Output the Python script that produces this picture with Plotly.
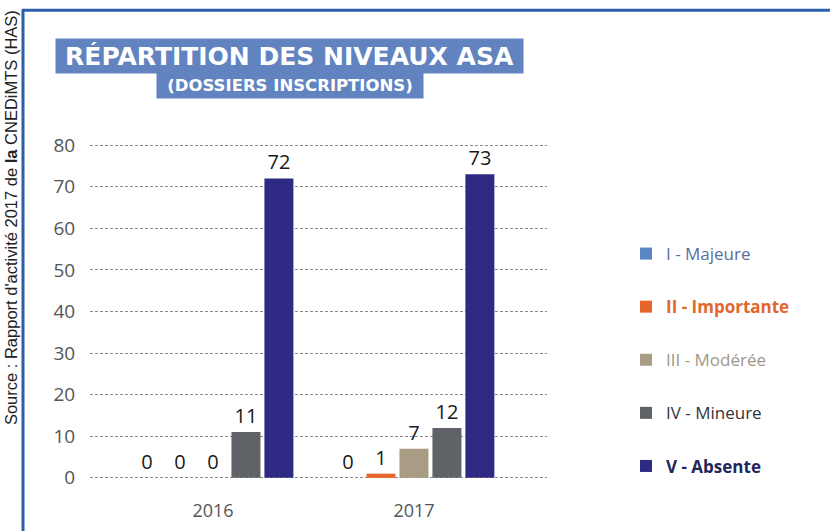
import plotly.graph_objects as go

years = ["2016", "2017"]
levels = ["I - Majeure", "II - Importante", "III - Modérée", "IV - Mineure", "V - Absente"]
v_majeure = [0, 0]
v_importante = [0, 1]
v_moderee = [0, 7]
v_mineure = [11, 12]
v_absente = [72, 73]
series = [v_majeure, v_importante, v_moderee, v_mineure, v_absente]
y_ticks = [0, 10, 20, 30, 40, 50, 60, 70, 80]

bar_colors = ["#5b84c4", "#e8652a", "#a89c84", "#5f6267", "#2e2a84"]
text_colors = ["#5a6f9c", "#e0682c", "#a0968a", "#333338", "#22265a"]
weights = ["normal", "bold", "normal", "normal", "bold"]

W, H = 830, 531
# pixel layout: value 0 at y=478, value 80 at y=145
UNIT = (478 - 145) / 80.0
YMIN, YMAX = -1, 81
L, R = 90, 547
B = 478 + UNIT * (0 - YMIN)
T = 145 - UNIT * (YMAX - 80)

def px(x):
    return (x - L) / (R - L)

def py(y):
    return (B - y) / (B - T)

fig = go.Figure()
for i, (name, vals) in enumerate(zip(levels, series)):
    label = f"<span style='color:{text_colors[i]}'>{'<b>' + name + '</b>' if weights[i]=='bold' else name}</span>"
    fig.add_trace(go.Bar(
        x=years, y=vals, name=label,
        marker=dict(color=bar_colors[i], line=dict(width=0)),
        text=[str(v) for v in vals], textposition="outside",
        textfont=dict(size=20, color="#1a1a1a", family="Open Sans"),
        cliponaxis=False, legendgroup=str(i),
    ))

fig.update_layout(
    width=W, height=H,
    margin=dict(l=L, r=W - R, t=T, b=H - B, autoexpand=False),
    paper_bgcolor="white", plot_bgcolor="white",
    barmode="group", bargap=0.18, bargroupgap=0.12,
    showlegend=True,
    legend=dict(
        xref="container", yref="container",
        x=626 / W, y=1 - 236 / H, xanchor="left", yanchor="top",
        font=dict(size=17, family="Open Sans"),
        tracegroupgap=28, traceorder="grouped",
        bgcolor="rgba(0,0,0,0)",
    ),
    xaxis=dict(
        range=[-0.612, 1.662], showgrid=False, zeroline=False, showline=False,
        ticks="outside", ticklen=12, tickcolor="rgba(0,0,0,0)",
        tickfont=dict(size=18, color="#555", family="Open Sans"),
    ),
    yaxis=dict(
        range=[YMIN, YMAX], tickvals=y_ticks, showgrid=True, gridcolor="#8a8a8a",
        griddash="3px,2px", gridwidth=1, zeroline=False, showline=False,
        ticks="outside", ticklen=10, tickcolor="rgba(0,0,0,0)",
        tickfont=dict(size=19, color="#555", family="Open Sans"),
    ),
)

# frame
fig.add_shape(type="line", xref="paper", yref="paper", x0=px(23), x1=px(23), y0=py(9), y1=py(540),
              line=dict(color="#2d5fa8", width=3))
fig.add_shape(type="line", xref="paper", yref="paper", x0=px(22), x1=px(840), y0=py(10), y1=py(10),
              line=dict(color="#2d5fa8", width=3))

# title boxes
fig.add_annotation(xref="paper", yref="paper", x=px(289.5), y=py(56), showarrow=False,
                   xanchor="center", yanchor="middle",
                   text="<b>RÉPARTITION DES NIVEAUX ASA</b>", bgcolor="#6184c0",
                   width=467, height=34, borderpad=0,
                   font=dict(size=25, color="white", family="DejaVu Sans"))
fig.add_annotation(xref="paper", yref="paper", x=px(290), y=py(85.5), showarrow=False,
                   xanchor="center", yanchor="middle",
                   text="<b>(DOSSIERS INSCRIPTIONS)</b>", bgcolor="#6184c0",
                   width=266, height=25, borderpad=0,
                   font=dict(size=16.5, color="white", family="DejaVu Sans"))

# source
fig.add_annotation(xref="paper", yref="paper", x=px(11), y=py(218), showarrow=False,
                   xanchor="center", yanchor="middle",
                   text="Source : Rapport d'activité 2017 de <b>la</b> CNEDiMTS (HAS)", textangle=-90,
                   font=dict(size=16.5, color="#222", family="Liberation Sans"))

fig.write_html("out.html", config={"displayModeBar": False},
               post_script="document.body.style.margin='0';document.body.style.padding='0';")
